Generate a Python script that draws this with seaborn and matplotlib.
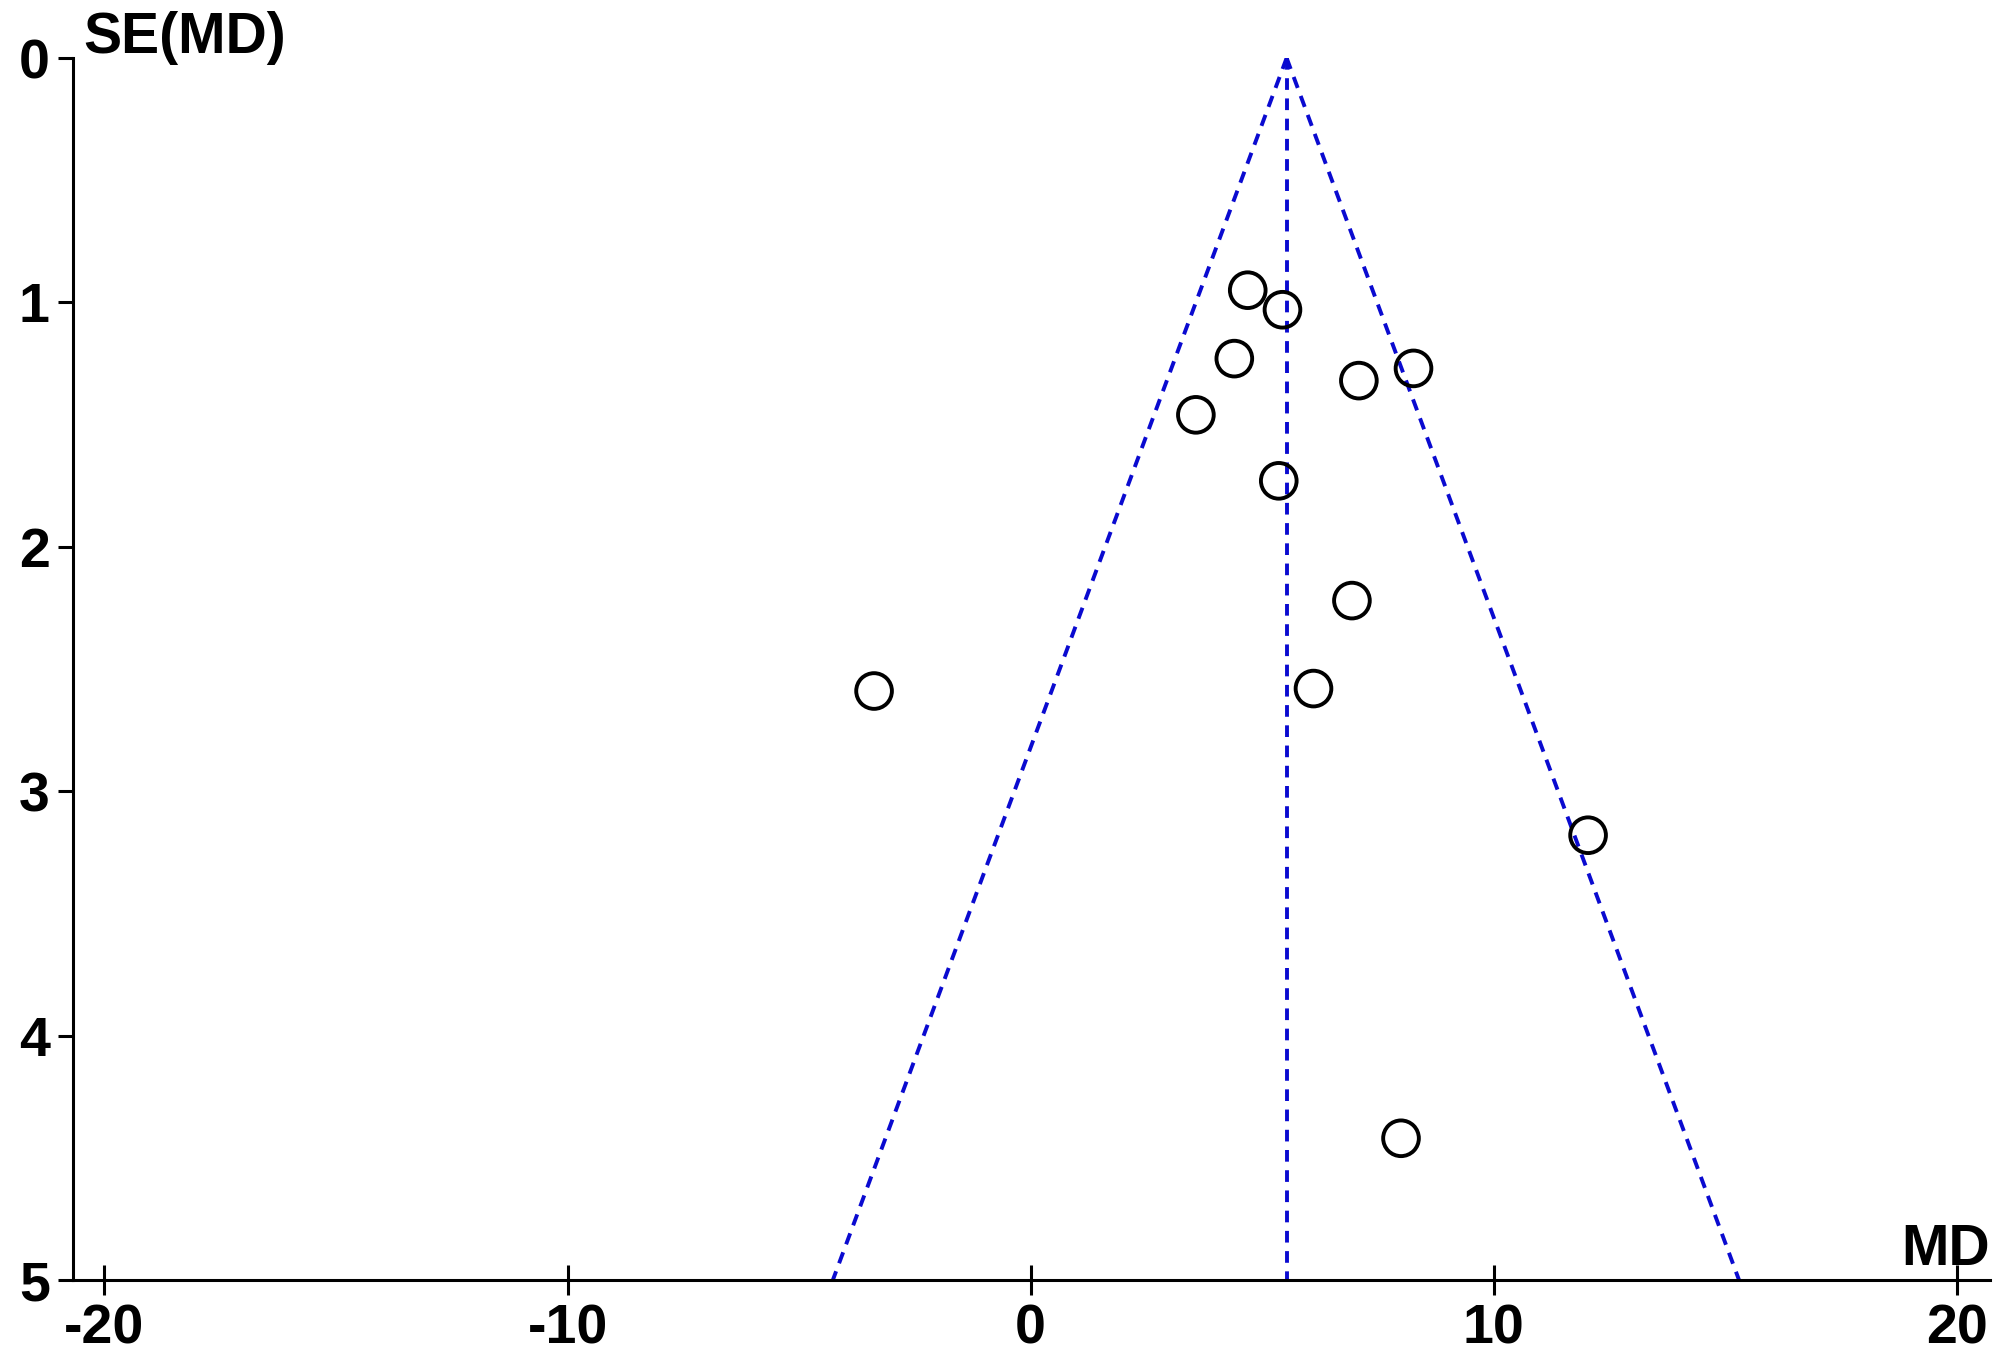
import matplotlib
matplotlib.use("Agg")
import matplotlib.pyplot as plt
import seaborn as sns
import pandas as pd

# Estudios (MD, SE)
md = [4.69, 5.44, 4.40, 8.27, 7.09, 3.57, 5.36, 6.94, -3.38, 6.11, 12.04, 8.00]
se = [0.95, 1.03, 1.23, 1.27, 1.32, 1.46, 1.73, 2.22, 2.59, 2.58, 3.18, 4.42]

# Embudo: efecto combinado y limites 95% en SE = 0 y SE = 5
funnel_se = [0, 5]
center_md = [5.53, 5.53]
left_md = [5.53, -4.27]
right_md = [5.53, 15.30]

x_ticks = [-20, -10, 0, 10, 20]
y_ticks = [0, 1, 2, 3, 4, 5]

df = pd.DataFrame({"MD": md, "SE": se})

sns.set_style("ticks")
plt.rcParams["font.family"] = ["Liberation Sans", "DejaVu Sans"]
plt.rcParams["axes.unicode_minus"] = False
plt.rcParams["text.color"] = "black"

fig = plt.figure(figsize=(10, 6.84), dpi=200)
ax = fig.add_axes([0.0365, 0.0643, 0.9585, 0.8933])

blue = "#0a0ad0"
dash = (0, (3.0, 2.2))
for xs in (center_md, left_md, right_md):
    ax.plot(xs, funnel_se, color=blue, lw=1.4, linestyle=dash, zorder=1)

sns.scatterplot(data=df, x="MD", y="SE", ax=ax, s=165, marker="o",
                facecolor="none", edgecolor="black", linewidth=1.4, zorder=3)

ax.set_xlim(-20.68, 20.72)
ax.set_ylim(5, 0)
ax.set_xticks(x_ticks)
ax.set_yticks(y_ticks)
ax.set_xlabel("")
ax.set_ylabel("")

sns.despine(ax=ax)
for s in ["left", "bottom"]:
    ax.spines[s].set_linewidth(1.1)
    ax.spines[s].set_color("black")

ax.tick_params(axis="x", direction="inout", length=10.8, width=1.1,
               labelsize=20, pad=3, colors="black")
ax.tick_params(axis="y", direction="out", length=5.4, width=1.1,
               labelsize=20, pad=3, colors="black")
for lab in ax.get_xticklabels() + ax.get_yticklabels():
    lab.set_fontweight("bold")

fig.text(0.0415, 0.9613, "SE(MD)", fontsize=20.5, fontweight="bold",
         color="black", ha="left", va="baseline")
fig.text(0.995, 0.0753, "MD", fontsize=20.5, fontweight="bold",
         color="black", ha="right", va="baseline")

fig.savefig("out.png", dpi=200)
plt.close(fig)
